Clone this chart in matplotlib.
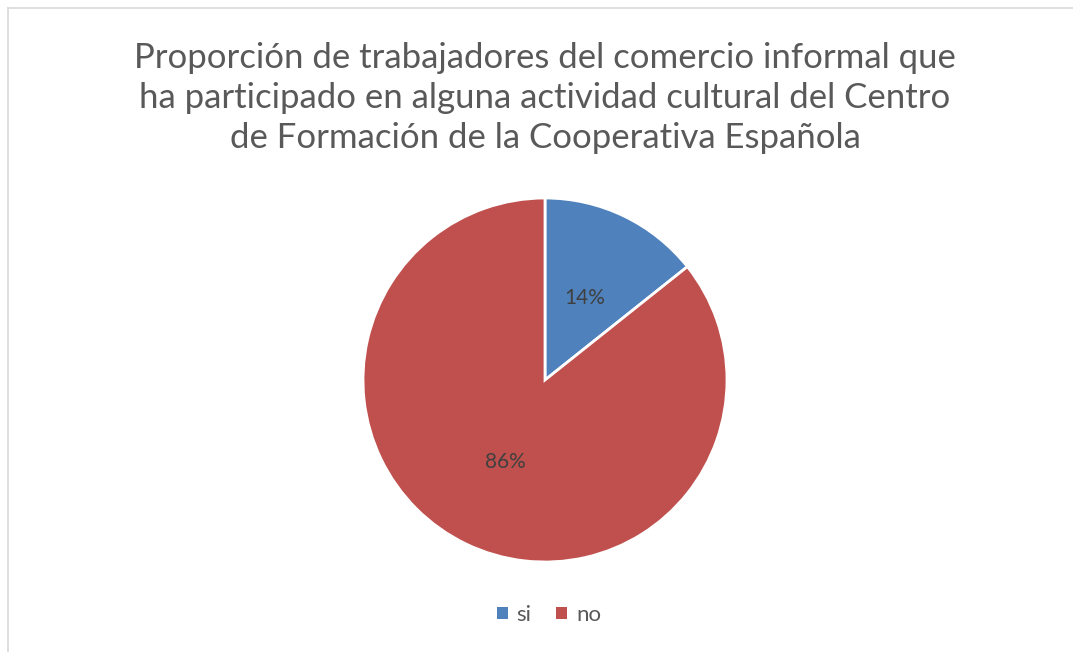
import matplotlib
matplotlib.use("Agg")
import matplotlib.pyplot as plt
from matplotlib.lines import Line2D
from matplotlib.patches import Patch

categories = ["si", "no"]
values = [14.3, 85.7]
colors = ["#4F81BD", "#C0504D"]
title = ("Proporción de trabajadores del comercio informal que\n"
         "ha participado en alguna actividad cultural del Centro\n"
         "de Formación de la Cooperativa Española")

plt.rcParams['font.family'] = ['Lato', 'DejaVu Sans']

W, H = 1073, 652
fig = plt.figure(figsize=(W / 100, H / 100), dpi=100)
fig.patch.set_facecolor("white")

# border lines (top and left)
fig.add_artist(Line2D([8 / W, 1], [1 - 8 / H, 1 - 8 / H], color="#D9D9D9", lw=1.2, transform=fig.transFigure))
fig.add_artist(Line2D([8 / W, 8 / W], [0, 1 - 8 / H], color="#D9D9D9", lw=1.2, transform=fig.transFigure))

fig.text(545 / W, 1 - 98 / H, title, ha="center", va="center", fontsize=25,
         color="#595959", linespacing=1.3)

cx, cy, r = 545, 380, 182
ax = fig.add_axes([(cx - r) / W, (H - cy - r) / H, 2 * r / W, 2 * r / H])
wedges, texts, autotexts = ax.pie(values, colors=colors, startangle=90, counterclock=False,
                                  autopct='%1.0f%%', pctdistance=0.5,
                                  wedgeprops=dict(edgecolor="white", linewidth=2),
                                  textprops=dict(color="#404040", fontsize=15))
ax.set_aspect("equal")
ax.set_xlim(-1, 1)
ax.set_ylim(-1, 1)
ax.axis("off")

handles = [Patch(facecolor=c, edgecolor="none") for c in colors]
fig.legend(handles, categories, loc="center", bbox_to_anchor=(549 / W, 1 - 615 / H),
           ncol=2, frameon=False, fontsize=16, labelcolor="#595959",
           handlelength=0.5, handleheight=0.5, handletextpad=0.4, columnspacing=1.1)

fig.savefig("out.png", dpi=100, facecolor="white")
